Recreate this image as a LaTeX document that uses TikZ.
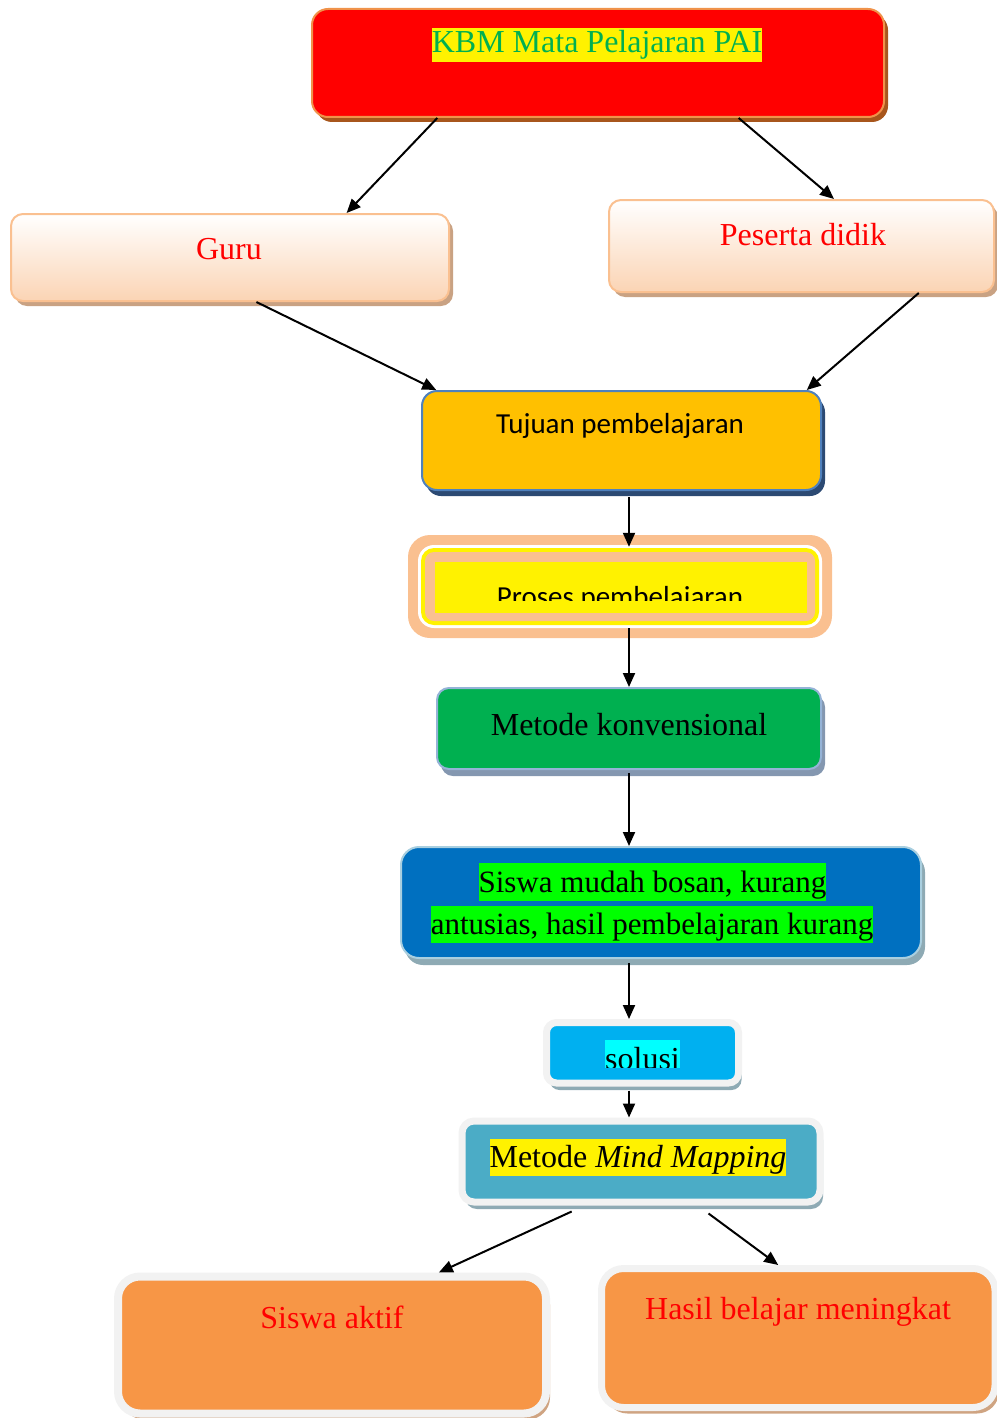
\documentclass[tikz,border=0pt]{standalone}
\usepackage{fontspec}
\setmainfont{Liberation Serif}
\newfontfamily\calibrifont{Carlito}
\usetikzlibrary{arrows.meta,shadows,calc}
\definecolor{kbmborder}{HTML}{F0924A}
\definecolor{kbmshadow}{HTML}{A8561C}
\definecolor{kbmgreen}{HTML}{00B050}
\definecolor{peachb}{HTML}{FAC090}
\definecolor{peachfill}{HTML}{FBD4B4}
\definecolor{tanshadow}{HTML}{C9A283}
\definecolor{gold}{HTML}{FFC000}
\definecolor{blueborder}{HTML}{4F81BD}
\definecolor{navyshadow}{HTML}{2C4A73}
\definecolor{greenfill}{HTML}{00B050}
\definecolor{lightblueborder}{HTML}{95B3D7}
\definecolor{grayblueshadow}{HTML}{8497B0}
\definecolor{bluefill}{HTML}{0070C0}
\definecolor{tealborder}{HTML}{A9CFE0}
\definecolor{tealshadow}{HTML}{8EAAB4}
\definecolor{hlgreen}{HTML}{00FF00}
\definecolor{ringgray}{HTML}{F2F2F2}
\definecolor{skyfill}{HTML}{00B0F0}
\definecolor{aquafill}{HTML}{4BACC6}
\definecolor{orangefill}{HTML}{F79646}
\definecolor{orangeshadow}{HTML}{CFA482}
\definecolor{hlcyan}{HTML}{00FFFF}
\begin{document}
\begin{tikzpicture}[x=1pt,y=-1pt,
  box/.style={rectangle, inner sep=0pt},
  txt/.style={inner sep=0pt, font=\fontsize{32}{38}\selectfont},
  hl/.style={txt, text depth=9pt},
  ctxt/.style={inner sep=0pt, font=\calibrifont\fontsize{29}{35}\selectfont},
  arr/.style={draw=black, line width=2pt, -{Triangle[length=14pt,width=12pt]}}
]
\useasboundingbox (0,0) rectangle (996,1418);

% KBM
\node[box, minimum width=572pt, minimum height=108pt, rounded corners=16pt,
  fill=red, draw=kbmborder, line width=2pt,
  drop shadow={shadow xshift=4pt, shadow yshift=-5pt, fill=kbmshadow, opacity=1}]
  (kbm) at (598,63) {};
\node[hl, fill=yellow, text=kbmgreen, text height=25pt, anchor=base] (kbmtxt) at (597,53) {KBM Mata Pelajaran PAI};

% Guru
\node[box, minimum width=438pt, minimum height=87pt, rounded corners=12pt,
  draw=peachb, line width=2pt, top color=white, bottom color=peachfill,
  drop shadow={shadow xshift=4pt, shadow yshift=-5pt, fill=tanshadow, opacity=1}]
  (guru) at (230,257.5) {};
\node[txt, text=red, anchor=base] (gurutxt) at (229,259) {Guru};

% Peserta didik
\node[box, minimum width=385pt, minimum height=92pt, rounded corners=12pt,
  draw=peachb, line width=2pt, top color=white, bottom color=peachfill,
  drop shadow={shadow xshift=4pt, shadow yshift=-5pt, fill=tanshadow, opacity=1}]
  (peserta) at (801.5,246) {};
\node[txt, text=red, anchor=base] (pesertatxt) at (803,245) {Peserta didik};

% Tujuan
\node[box, minimum width=399pt, minimum height=99pt, rounded corners=15pt,
  fill=gold, draw=blueborder, line width=2pt,
  drop shadow={shadow xshift=4pt, shadow yshift=-6pt, fill=navyshadow, opacity=1}]
  (tujuan) at (621.5,440.5) {};
\node[ctxt, anchor=base] (tujuantxt) at (620,433) {Tujuan pembelajaran};

% Proses
\node[box, minimum width=424pt, minimum height=103pt, rounded corners=22pt, fill=peachb] (prosesring) at (620,586.5) {};
\node[box, minimum width=404pt, minimum height=83pt, rounded corners=16pt, fill=white] (proses) at (620,586.5) {};
\node[box, minimum width=398pt, minimum height=77pt, rounded corners=13pt, fill=yellow] (prosesy) at (620,586.5) {};
\node[box, minimum width=390pt, minimum height=69pt, rounded corners=9pt, fill=peachb] (prosesp) at (620,586.5) {};
\node[box, minimum width=372pt, minimum height=51pt, fill=yellow] (prosesin) at (621,587.5) {};
\begin{scope}
\clip (435,562) rectangle (807,600);
\node[ctxt, anchor=base] (prosestxt) at (620,606) {Proses pembelajaran};
\end{scope}

% Metode konvensional
\node[box, minimum width=384pt, minimum height=81pt, rounded corners=12pt,
  fill=greenfill, draw=lightblueborder, line width=2pt,
  drop shadow={shadow xshift=4pt, shadow yshift=-7pt, fill=grayblueshadow, opacity=1}]
  (metode) at (629,728.5) {};
\node[txt, anchor=base] (metodetxt) at (629,735) {Metode konvensional};

% Siswa mudah bosan
\node[box, minimum width=520pt, minimum height=111pt, rounded corners=18pt,
  fill=bluefill, draw=tealborder, line width=2pt,
  drop shadow={shadow xshift=4pt, shadow yshift=-7pt, fill=tealshadow, opacity=1}]
  (siswa) at (661,902.5) {};
\node[hl, fill=hlgreen, text height=29pt, anchor=base, font=\fontsize{31}{37}\selectfont] (siswatxta) at (652.5,892) {Siswa mudah bosan, kurang};
\node[hl, fill=hlgreen, text height=28pt, anchor=base, font=\fontsize{31}{37}\selectfont] (siswatxtb) at (652,934) {antusias, hasil pembelajaran kurang};

% solusi
\node[box, minimum width=192pt, minimum height=60.5pt, rounded corners=10pt,
  fill=skyfill, draw=ringgray, line width=7pt,
  drop shadow={shadow xshift=3pt, shadow yshift=-7pt, fill=tealshadow, opacity=1}]
  (solusi) at (642.5,1052.75) {};
\begin{scope}
\clip (600,1035) rectangle (685,1067);
\node[hl, fill=hlcyan, text height=29pt, anchor=base] (solusitxt) at (642.5,1069) {solusi};
\end{scope}

% Mind Mapping
\node[box, minimum width=358pt, minimum height=81pt, rounded corners=12pt,
  fill=aquafill, draw=ringgray, line width=7pt,
  drop shadow={shadow xshift=3pt, shadow yshift=-7pt, fill=tealshadow, opacity=1}]
  (mind) at (641,1161.5) {};
\node[hl, fill=yellow, text height=28pt, anchor=base] (mindtxt) at (638,1167) {Metode \textit{Mind Mapping}};

% Siswa aktif
\node[box, minimum width=428pt, minimum height=137pt, rounded corners=22pt,
  fill=orangefill, draw=ringgray, line width=8pt,
  drop shadow={shadow xshift=4pt, shadow yshift=-6pt, fill=orangeshadow, opacity=1}]
  (aktif) at (332,1345) {};
\node[txt, text=red, anchor=base] (aktiftxt) at (332,1328) {Siswa aktif};

% Hasil belajar
\node[box, minimum width=393.5pt, minimum height=139pt, rounded corners=22pt,
  fill=orangefill, draw=ringgray, line width=7pt,
  drop shadow={shadow xshift=4pt, shadow yshift=-6pt, fill=orangeshadow, opacity=1}]
  (hasil) at (798.25,1338) {};
\node[txt, text=red, anchor=base] (hasiltxt) at (798,1319) {Hasil belajar meningkat};

% connectors
\draw[arr] ($(kbm.south west)!0.22!(kbm.south east)$) -- ($(guru.north west)!0.765!(guru.north east)$);
\draw[arr] ($(kbm.south west)!0.745!(kbm.south east)$) -- ($(peserta.north west)!0.584!(peserta.north east)$);
\draw[arr] ($(guru.south west)!0.56!(guru.south east)$) -- ($(tujuan.north west)!0.038!(tujuan.north east)$);
\draw[arr] ($(peserta.south west)!0.803!(peserta.south east)$) -- ($(tujuan.north west)!0.962!(tujuan.north east)$);
\draw[arr] ($(tujuan.south -| metode.north)+(0,6)$) -- ($(proses.north -| metode.north)+(0,2)$);
\draw[arr] (proses.south -| metode.north) -- (metode.north);
\draw[arr] ($(metode.south)+(0,3)$) -- (siswa.north -| metode.north);
\draw[arr] ($(siswa.south -| metode.north)+(0,4)$) -- (solusi.north -| metode.north);
\draw[arr] ($(solusi.south -| metode.north)+(0,4)$) -- (mind.north -| metode.north);
\draw[arr] ($(mind.south west)!0.31!(mind.south east)+(0,6)$) -- ($(aktif.north west)!0.745!(aktif.north east)$);
\draw[arr] ($(mind.south west)!0.685!(mind.south east)+(0,8)$) -- ($(hasil.north west)!0.45!(hasil.north east)$);
\end{tikzpicture}
\end{document}
